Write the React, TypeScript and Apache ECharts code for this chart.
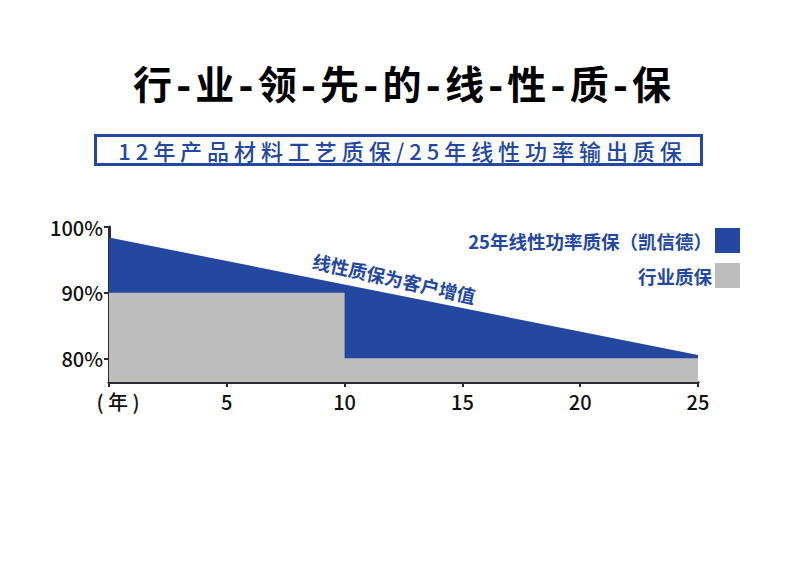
import React, { useEffect, useRef } from 'react';
import * as echarts from 'echarts';

const title = '行-业-领-先-的-线-性-质-保';
const subtitle = '12年产品材料工艺质保/25年线性功率输出质保';
const seriesNames = ['25年线性功率质保（凯信德）', '行业质保'];
const noteText = '线性质保为客户增值';

// 凯信德: linear decline over 25 years
const linearYears = [0, 25];
const linearValues = [98.4, 80.5];
// industry: stepped warranty
const stepYears = [0, 10, 10, 25];
const stepValues = [90, 90, 80, 80];

const yTicks = [80, 90, 100];
const xTicks = [0, 5, 10, 15, 20, 25];

const BLUE = '#2447a0';
const GRAY = '#bebdbd';
const AXIS = '#2a2a30';

const App: React.FC = () => {
  const chartRef = useRef<HTMLDivElement | null>(null);

  useEffect(() => {
    document.body.style.margin = '0';
    if (!chartRef.current) return;
    const chart = echarts.init(chartRef.current, undefined, { renderer: 'svg' });

    const option = {
      animation: false,
      backgroundColor: '#fff',
      graphic: [
        {
          type: 'text',
          x: 402,
          y: 89,
          style: {
            text: title,
            font: 'bold 39px "Liberation Mono", "Noto Sans CJK SC"',
            fill: '#000',
            align: 'center',
            verticalAlign: 'middle',
          },
        },
        {
          type: 'rect',
          shape: { x: 95.5, y: 135.5, width: 606, height: 29 },
          style: { fill: 'none', stroke: BLUE, lineWidth: 3 },
        },
        {
          type: 'text',
          x: 400,
          y: 150,
          style: {
            text: subtitle.split('').join(' '),
            font: '500 22px "Noto Sans CJK SC"',
            fill: BLUE,
            align: 'center',
            verticalAlign: 'middle',
          },
        },
      ],
      legend: {
        orient: 'vertical',
        right: 45,
        top: 223,
        align: 'right',
        itemWidth: 25,
        itemHeight: 25,
        itemGap: 10,
        icon: 'rect',
        selectedMode: false,
        textStyle: {
          color: BLUE,
          fontSize: 18.5,
          fontWeight: 'bold',
          fontFamily: 'Noto Sans CJK SC',
          padding: [0, -2, 0, 0],
        },
        data: seriesNames,
      },
      grid: { left: 109, right: 92, top: 227, bottom: 197 },
      xAxis: {
        type: 'value',
        min: 0,
        max: 25,
        interval: 5,
        splitLine: { show: false },
        axisLine: { show: true, onZero: false, lineStyle: { color: AXIS, width: 3 } },
        axisTick: { show: true, length: 5, lineStyle: { color: AXIS, width: 2 } },
        axisLabel: {
          color: '#111',
          fontSize: 20,
          fontWeight: 500,
          fontFamily: 'Noto Sans CJK SC',
          margin: 9,
          customValues: xTicks,
          formatter: (v: number) => (v === 0 ? '{u|( 年 )}' : String(v)),
          rich: {
            u: { fontSize: 20, fontWeight: 500, color: '#111', fontFamily: 'Noto Sans CJK SC', padding: [0, 0, 0, 18] },
          },
        },
      },
      yAxis: {
        type: 'value',
        min: 76.4,
        max: 100,
        splitLine: { show: false },
        axisLine: { show: true, lineStyle: { color: AXIS, width: 3 } },
        axisTick: { show: true, length: 5, customValues: yTicks, lineStyle: { color: AXIS, width: 2 } },
        axisLabel: {
          color: '#111',
          fontSize: 20,
          fontWeight: 500,
          fontFamily: 'Noto Sans CJK SC',
          margin: 6,
          customValues: yTicks,
          formatter: (v: number) => v + '%',
        },
      },
      series: [
        {
          name: seriesNames[0],
          type: 'line',
          symbol: 'none',
          color: BLUE,
          lineStyle: { width: 0 },
          areaStyle: { color: BLUE, opacity: 1, origin: 'start' },
          data: linearYears.map((x, i) => [x, linearValues[i]]),
          markPoint: {
            symbol: 'rect',
            symbolSize: 0,
            data: [{ coord: [12.1, 92.2] }],
            label: {
              show: true,
              formatter: noteText,
              rotate: -12.5,
              color: BLUE,
              fontSize: 18.5,
              fontWeight: 'bold',
              fontFamily: 'Noto Sans CJK SC',
            },
          },
        },
        {
          name: seriesNames[1],
          type: 'line',
          symbol: 'none',
          color: GRAY,
          lineStyle: { width: 0 },
          areaStyle: { color: GRAY, opacity: 1, origin: 'start' },
          data: stepYears.map((x, i) => [x, stepValues[i]]),
        },
      ],
    };

    chart.setOption(option);
    return () => {
      chart.dispose();
    };
  }, []);

  return <div ref={chartRef} style={{ width: '790px', height: '579px' }} />;
};

export default App;
